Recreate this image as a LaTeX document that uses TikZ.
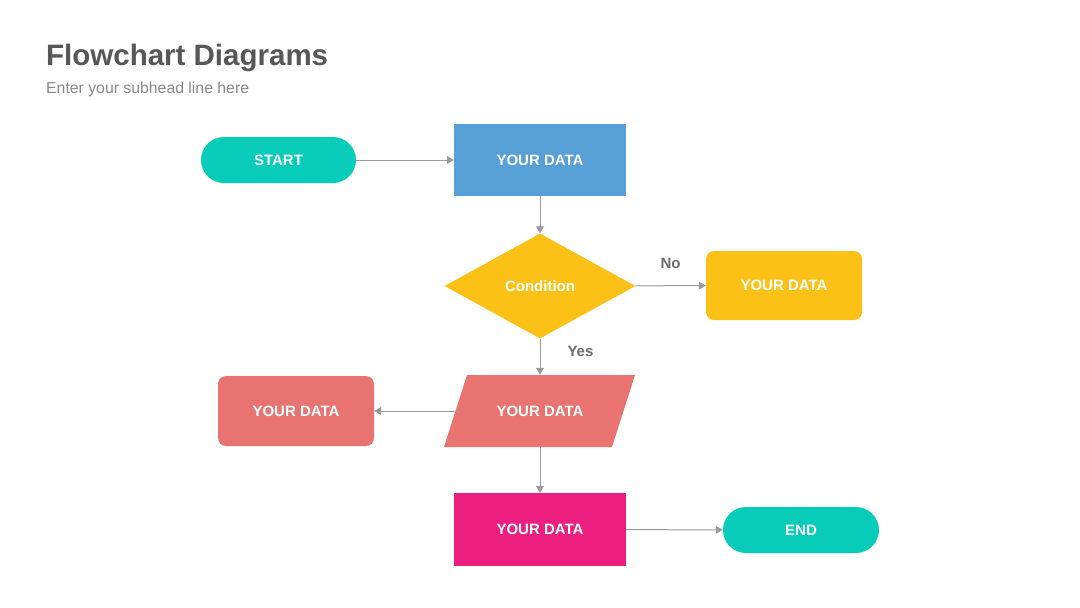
\documentclass[tikz,border=0pt]{standalone}
\usepackage{fontspec}
\setmainfont{Liberation Sans}
\usetikzlibrary{shapes.geometric,arrows.meta,calc}
\definecolor{cteal}{HTML}{07CCB9}
\definecolor{cblue}{HTML}{579FD7}
\definecolor{cyellow}{HTML}{FBC116}
\definecolor{csalmon}{HTML}{E87370}
\definecolor{cmagenta}{HTML}{EC1E80}
\definecolor{cline}{HTML}{9A9A9A}
\definecolor{ctitle}{HTML}{575757}
\definecolor{csub}{HTML}{8A8A8A}
\definecolor{clabel}{HTML}{6B6B6B}
\tikzset{
  txt/.style={text=white,font=\fontsize{15}{18}\selectfont\bfseries,inner sep=0pt},
  stadium/.style={txt,rectangle,rounded corners=23pt,minimum width=155pt,minimum height=46pt},
  plainbox/.style={txt,rectangle,minimum width=172pt,minimum height=72pt},
  roundbox/.style={txt,rectangle,rounded corners=8pt,minimum width=156pt,minimum height=69pt},
  conn/.style={draw=cline,line width=1pt,-{Triangle[width=8pt,length=7pt]}},
  lbl/.style={text=clabel,font=\fontsize{15}{18}\selectfont\bfseries,inner sep=0pt}
}
\begin{document}
\begin{tikzpicture}[x=1pt,y=-1pt]
\useasboundingbox[fill=white] (0,0) rectangle (1080,608);
\node[anchor=base west,inner sep=0pt,text=ctitle,font=\fontsize{29.5}{34}\selectfont\bfseries] (title) at (46,65) {Flowchart Diagrams};
\node[anchor=base west,inner sep=0pt,text=csub,font=\fontsize{15.8}{18}\selectfont] (sub) at (46,93) {Enter your subhead line here};

\node[stadium,fill=cteal] (start) at (278.5,160) {START};
\node[plainbox,fill=cblue] (d1) at (540,160) {YOUR DATA};
\node[txt,diamond,fill=cyellow,minimum width=191pt,minimum height=105pt,aspect=1.82] (cond) at (540,286) {Condition};
\node[roundbox,fill=cyellow] (d2) at (784,285.5) {YOUR DATA};
% parallelogram (input/output)
\fill[csalmon] (467,375) -- (635,375) -- (612,447) -- (444,447) -- cycle;
\node[txt,rectangle,minimum width=191pt,minimum height=72pt] (io) at (540,411) {YOUR DATA};
\coordinate (ioleft) at ($(io.west)+(16,0)$);
\node[roundbox,fill=csalmon,minimum height=70pt] (d3) at (296,411) {YOUR DATA};
\node[plainbox,fill=cmagenta,minimum height=73pt] (d4) at (540,529.5) {YOUR DATA};
\node[stadium,fill=cteal,minimum width=156pt] (end) at (801,530) {END};

\draw[conn] (start) -- (d1);
\draw[conn] (d1) -- (cond);
\draw[conn] (cond) -- (d2) node[lbl,pos=0.5,above=17pt] (no) {No};
\draw[conn] (cond) -- (io) node[lbl,pos=0.35,right=27pt] (yes) {Yes};
\draw[conn] (ioleft) -- (d3);
\draw[conn] (io) -- (d4);
\draw[conn] (d4) -- (end);
\end{tikzpicture}
\end{document}
